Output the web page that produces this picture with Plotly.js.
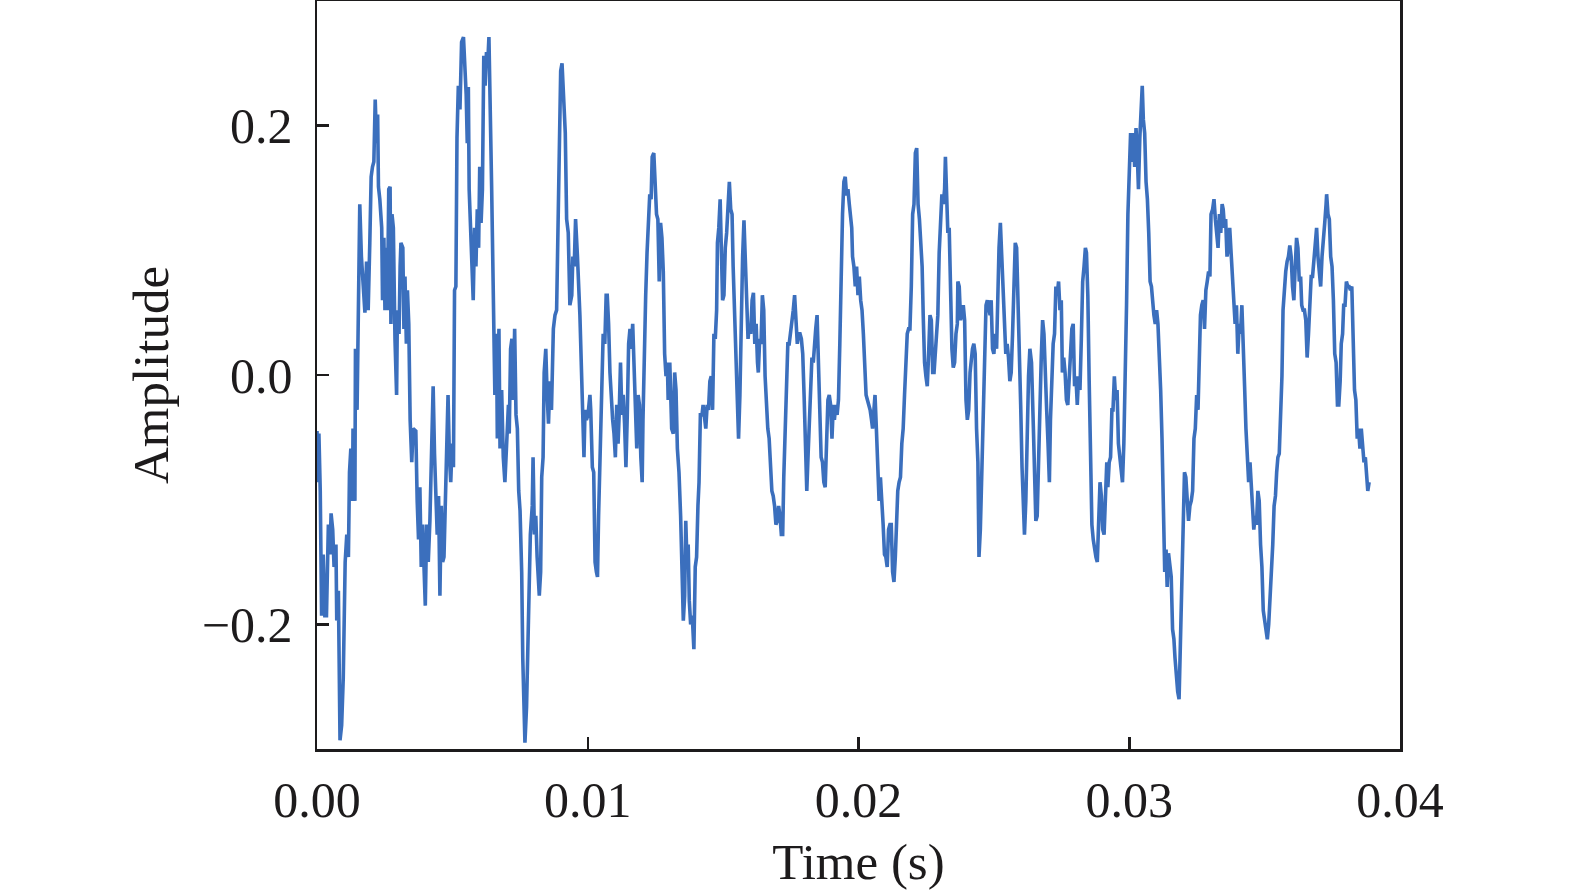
<!DOCTYPE html>
<html>
<head>
<meta charset="utf-8">
<script src="https://cdn.plot.ly/plotly-3.0.1.min.js"></script>
<style>html,body{margin:0;padding:0;background:#fff;}#chart{width:1575px;height:891px;}</style>
</head>
<body>
<div id="chart"></div>
<script>
// Time in milliseconds, converted to seconds for the axis
const timeMs = [
0.00,0.03,0.07,0.12,0.17,0.23,0.29,0.35,0.42,0.48,0.52,0.58,0.63,0.70,0.73,0.79,0.85,0.91,0.97,1.04,
1.10,1.16,1.20,1.25,1.31,1.33,1.40,1.42,1.48,1.53,1.58,1.64,1.71,1.77,1.83,1.89,1.95,2.00,2.05,2.10,
2.15,2.20,2.24,2.27,2.32,2.39,2.42,2.47,2.51,2.55,2.60,2.65,2.70,2.73,2.77,2.82,2.88,2.94,2.97,3.03,
3.07,3.10,3.17,3.21,3.25,3.30,3.34,3.39,3.44,3.50,3.55,3.65,3.70,3.75,3.80,3.85,3.90,3.95,4.00,4.05,
4.11,4.17,4.23,4.29,4.34,4.39,4.44,4.49,4.54,4.59,4.64,4.69,4.73,4.79,4.84,4.89,4.94,4.99,5.04,5.08,
5.13,5.17,5.22,5.28,5.34,5.41,5.47,5.51,5.55,5.59,5.62,5.67,5.72,5.77,5.82,5.87,5.92,5.97,6.01,6.06,
6.11,6.16,6.21,6.26,6.31,6.35,
6.45,6.51,6.53,6.57,6.63,6.66,6.72,6.76,6.82,6.88,6.94,7.00,7.07,7.10,7.15,7.20,7.25,7.30,7.35,7.40,
7.45,7.50,7.56,7.60,7.65,7.68,7.74,7.77,7.83,7.88,7.95,7.98,8.03,8.08,8.13,8.21,8.26,8.30,8.35,8.39,
8.45,8.50,8.55,8.60,8.66,8.73,8.79,8.85,8.90,8.95,9.00,9.05,9.10,9.13,9.17,9.22,9.28,9.34,9.41,9.45,
9.50,9.55,9.62,9.67,9.71,9.78,9.81,9.86,9.90,9.95,10.01,10.08,10.11,10.17,10.22,10.27,10.32,10.36,10.40,10.45,
10.51,10.57,10.63,10.68,10.72,10.77,10.82,10.86,10.92,10.97,11.02,11.07,11.12,11.16,11.21,11.26,11.31,11.36,11.41,11.46,
11.51,11.56,11.61,11.66,11.71,11.76,11.81,11.86,11.91,11.96,12.01,12.04,12.09,12.14,12.19,12.24,12.29,12.34,12.38,12.44,
12.49,12.54,12.59,12.64,12.69,12.74,12.79,12.84,12.89,12.94,12.97,
13.03,13.10,13.16,13.21,13.26,13.31,13.37,13.43,13.48,13.53,13.58,13.62,13.66,13.71,13.75,13.80,13.86,13.92,13.97,14.02,
14.07,14.11,14.16,14.22,14.26,14.31,14.36,14.41,14.46,14.51,14.56,14.61,14.66,14.71,14.76,14.79,14.84,14.89,14.94,14.98,
15.03,15.08,15.13,15.18,15.23,15.28,15.33,15.37,15.42,15.47,15.52,15.57,15.62,15.67,15.72,15.77,15.82,15.87,15.92,15.97,
16.02,16.07,16.12,16.17,16.22,16.27,16.30,16.35,16.40,16.45,16.50,16.55,16.60,16.65,16.70,16.75,16.80,16.85,16.90,16.95,
17.00,17.05,17.10,17.15,17.20,17.24,17.29,17.34,17.39,17.44,17.49,17.54,17.59,17.64,17.69,17.74,17.79,17.84,17.89,17.94,
17.99,18.04,18.09,18.14,18.18,18.23,18.28,18.33,18.38,18.42,18.47,18.52,18.57,18.62,18.67,18.72,18.77,18.82,18.87,18.92,
18.97,19.02,19.07,19.11,19.16,19.21,19.26,19.31,19.36,19.41,19.46,19.51,19.56,19.61,19.66,
19.75,19.78,19.83,19.88,19.93,19.98,20.03,20.08,20.13,20.18,20.23,20.28,20.33,20.38,20.43,20.48,20.52,20.57,20.61,20.66,
20.71,20.76,20.81,20.86,20.91,20.96,21.01,21.06,21.11,21.16,21.21,21.26,21.31,21.36,21.41,21.45,21.50,21.55,21.60,21.65,
21.70,21.75,21.80,21.85,21.90,21.95,22.00,22.05,22.10,22.15,22.20,22.25,22.30,22.35,22.39,22.44,22.49,22.54,22.59,22.64,
22.69,22.74,22.79,22.83,22.88,22.93,22.98,23.03,23.08,23.13,23.18,23.21,23.25,23.30,23.35,23.40,23.45,23.50,23.55,23.60,
23.65,23.67,23.72,23.77,23.82,23.87,23.92,23.97,24.02,24.07,24.12,24.17,24.21,24.26,24.31,24.36,24.41,24.45,24.50,24.55,
24.61,24.66,24.71,24.76,24.81,24.86,24.90,24.95,25.00,25.05,25.10,25.15,25.19,25.24,25.29,25.34,25.39,25.44,25.49,25.54,
25.59,25.64,25.69,25.74,25.79,25.84,25.89,25.94,25.99,26.04,26.09,26.13,26.18,26.23,26.28,
26.33,26.39,26.46,26.51,26.55,26.60,26.65,26.70,26.75,26.80,26.85,26.90,26.95,27.00,27.05,27.09,27.14,27.19,27.24,27.29,
27.34,27.39,27.44,27.49,27.53,27.58,27.63,27.68,27.73,27.78,27.83,27.88,27.93,27.98,28.03,28.08,28.13,28.18,28.23,28.28,
28.33,28.38,28.42,28.47,28.52,28.57,28.62,28.67,28.72,28.77,28.82,28.87,28.92,28.97,29.02,29.07,29.12,29.17,29.21,29.26,
29.31,29.36,29.40,29.45,29.50,29.55,29.60,29.65,29.70,29.75,29.80,29.85,29.90,29.95,30.00,30.05,30.10,30.15,30.20,30.25,
30.30,30.34,30.39,30.44,30.48,30.52,30.57,30.62,30.67,30.72,30.77,30.82,30.86,30.91,30.96,31.01,31.06,31.11,31.16,31.21,
31.26,31.31,31.36,31.40,31.45,31.50,31.55,31.60,31.65,31.69,31.74,31.79,31.84,31.89,31.94,31.99,32.04,32.09,32.14,32.19,
32.24,32.29,32.34,32.39,32.44,32.49,32.54,32.59,32.63,32.68,32.73,32.78,32.83,32.88,32.93,
32.98,33.02,33.08,33.13,33.18,33.23,33.28,33.33,33.38,33.43,33.47,33.52,33.56,33.61,33.66,33.71,33.76,33.81,33.86,33.91,
33.96,34.01,34.06,34.11,34.16,34.21,34.26,34.31,34.36,34.41,34.46,34.51,34.55,34.60,34.65,34.70,34.75,34.80,34.85,34.90,
34.95,35.00,35.05,35.10,35.15,35.20,35.25,35.30,35.35,35.40,35.445,35.49,35.54,35.59,35.64,35.68,35.73,35.78,35.83,35.88,
35.93,35.98,36.03,36.08,36.13,36.18,36.23,36.28,36.33,36.37,36.42,36.47,36.52,36.57,36.62,36.67,36.72,36.77,36.82,36.87,
36.92,36.97,37.02,37.07,37.12,37.17,37.22,37.27,37.29,37.34,37.39,37.44,37.49,37.54,37.59,37.64,37.69,37.74,37.79,37.83,
37.88,37.92,37.97,38.02,38.07,38.12,38.17,38.22,38.27,38.32,38.37,38.42,38.47,38.52,38.57,38.62,38.67,38.72,38.76,38.81,
38.86
];

const amplitude = [
-0.045,-0.086,-0.047,-0.093,-0.193,-0.144,-0.193,-0.193,-0.120,-0.144,-0.111,-0.124,-0.154,-0.136,-0.197,-0.173,-0.293,-0.281,-0.243,-0.150,
-0.128,-0.146,-0.078,-0.059,-0.101,-0.043,-0.101,0.021,-0.028,0.071,0.137,0.095,0.071,0.050,0.091,0.052,0.106,0.159,0.167,0.171,
0.221,0.186,0.209,0.151,0.141,0.118,0.060,0.110,0.052,0.102,0.052,0.149,0.151,0.041,0.129,0.118,0.029,-0.016,0.052,0.033,
0.087,0.106,0.102,0.037,0.079,0.025,0.068,0.041,-0.036,-0.070,-0.043,-0.045,-0.101,-0.132,-0.090,-0.154,-0.120,-0.146,-0.185,-0.120,
-0.150,-0.117,-0.063,-0.009,-0.063,-0.101,-0.128,-0.097,-0.177,-0.105,-0.150,-0.146,-0.105,-0.059,-0.016,-0.066,-0.086,-0.055,-0.074,0.068,
0.071,0.190,0.232,0.213,0.267,0.271,0.240,0.225,0.186,0.231,0.149,0.118,0.071,0.060,0.118,0.087,0.133,0.102,0.167,0.122,
0.149,0.256,0.232,0.259,0.252,0.271,
0.151,0.068,0.025,-0.016,0.033,-0.051,0.037,-0.059,-0.012,-0.066,-0.086,-0.059,-0.024,-0.047,0.021,0.029,-0.020,0.037,-0.032,-0.043,
-0.093,-0.109,-0.158,-0.227,-0.258,-0.295,-0.266,-0.220,-0.177,-0.128,-0.105,-0.066,-0.128,-0.113,-0.146,-0.177,-0.158,-0.082,-0.066,0.002,
0.021,-0.016,-0.039,-0.005,-0.028,0.037,0.048,0.052,0.110,0.167,0.244,0.250,0.232,0.213,0.194,0.125,0.114,0.056,0.064,0.095,
0.087,0.125,0.095,0.071,0.048,-0.005,-0.028,-0.066,-0.028,-0.036,-0.032,-0.016,-0.028,-0.074,-0.078,-0.150,-0.158,-0.162,-0.113,-0.066,
-0.039,0.033,0.025,0.064,0.064,0.041,0.002,-0.016,-0.036,-0.047,-0.066,-0.024,-0.055,-0.032,0.010,-0.032,-0.016,-0.039,-0.074,-0.032,
0.025,0.037,0.021,0.041,0.006,-0.020,-0.059,-0.016,-0.024,-0.066,-0.086,-0.036,0.029,0.064,0.098,0.122,0.145,0.141,0.175,0.178,
0.151,0.129,0.125,0.075,0.122,0.110,0.083,0.017,-0.001,0.010,-0.020,
0.010,-0.043,-0.047,0.002,-0.012,-0.059,-0.078,-0.113,-0.158,-0.197,-0.177,-0.117,-0.146,-0.136,-0.181,-0.200,-0.193,-0.220,-0.154,-0.146,
-0.105,-0.086,-0.032,-0.032,-0.024,-0.036,-0.043,-0.024,-0.028,-0.005,-0.001,-0.028,0.033,0.029,0.052,0.106,0.118,0.141,0.087,0.060,
0.064,0.102,0.114,0.137,0.155,0.133,0.129,0.087,0.056,0.010,-0.020,-0.051,-0.016,0.048,0.095,0.124,0.087,0.064,0.029,0.041,
0.033,0.060,0.066,0.025,0.041,0.010,0.002,0.029,0.025,0.064,0.052,-0.001,-0.028,-0.043,-0.051,-0.082,-0.093,-0.097,-0.105,-0.120,
-0.117,-0.105,-0.113,-0.128,-0.128,-0.082,-0.051,-0.016,0.025,0.025,0.033,0.041,0.052,0.064,0.037,0.025,0.033,0.033,0.029,0.017,
-0.016,-0.051,-0.093,-0.063,-0.039,-0.009,0.014,0.010,0.029,0.037,0.048,0.010,-0.028,-0.066,-0.070,-0.086,-0.090,-0.051,-0.020,-0.016,
-0.024,-0.051,-0.024,-0.036,-0.024,-0.032,-0.020,0.025,0.087,0.129,0.155,0.159,0.144,0.149,0.137,
0.118,0.095,0.087,0.071,0.087,0.064,0.079,0.060,0.052,0.033,0.010,-0.016,-0.020,-0.024,-0.028,-0.036,-0.043,-0.028,-0.016,-0.043,
-0.082,-0.101,-0.082,-0.097,-0.120,-0.144,-0.146,-0.154,-0.124,-0.120,-0.120,-0.158,-0.166,-0.146,-0.117,-0.093,-0.086,-0.082,-0.055,-0.043,
-0.016,0.010,0.033,0.037,0.037,0.071,0.129,0.137,0.178,0.182,0.137,0.125,0.110,0.087,0.048,0.010,-0.001,-0.009,0.017,0.048,
0.044,0.002,0.002,0.017,0.025,0.048,0.098,0.122,0.145,0.137,0.149,0.175,0.137,0.114,0.118,0.071,0.021,0.006,0.010,0.033,
0.041,0.075,0.071,0.044,0.052,0.056,0.044,-0.020,-0.036,-0.028,0.002,0.017,0.021,0.025,0.017,-0.043,-0.070,-0.146,-0.124,-0.082,
-0.036,0.010,0.056,0.060,0.052,0.048,0.060,0.021,0.017,0.033,0.021,0.079,0.102,0.122,0.095,0.071,0.048,0.017,0.025,0.014,
-0.005,0.002,0.033,0.079,0.106,0.102,0.064,0.033,-0.024,-0.074,-0.105,-0.128,-0.101,-0.036,-0.001,
0.021,0.010,-0.043,-0.082,-0.117,-0.113,-0.055,-0.028,0.014,0.044,0.033,-0.005,-0.028,-0.055,-0.086,-0.036,-0.005,0.025,0.033,0.071,
0.064,0.075,0.052,0.060,0.002,0.014,0.002,-0.020,-0.024,-0.001,0.021,0.037,0.041,-0.009,-0.001,-0.024,-0.001,-0.012,0.029,0.075,
0.087,0.102,0.098,0.064,-0.005,-0.074,-0.120,-0.132,-0.140,-0.146,-0.150,-0.117,-0.086,-0.097,-0.124,-0.128,-0.093,-0.070,-0.090,-0.070,
-0.066,-0.028,-0.028,-0.001,-0.020,-0.012,-0.055,-0.066,-0.082,-0.086,-0.055,-0.012,0.056,0.129,0.171,0.194,0.171,0.194,0.167,0.198,
0.175,0.149,0.190,0.217,0.232,0.205,0.194,0.155,0.141,0.114,0.075,0.071,0.056,0.048,0.041,0.052,0.041,0.017,-0.012,-0.051,
-0.097,-0.158,-0.140,-0.170,-0.143,-0.154,-0.162,-0.204,-0.212,-0.227,-0.243,-0.254,-0.260,-0.212,-0.166,-0.120,-0.078,-0.082,-0.101,-0.117,
-0.105,-0.101,-0.093,-0.051,-0.043,-0.016,-0.028,0.006,0.048,0.056,0.060,0.037,0.068,0.075,0.083,
0.079,0.129,0.133,0.141,0.125,0.110,0.102,0.129,0.114,0.137,0.133,0.118,0.125,0.095,0.102,0.118,0.095,0.079,0.056,0.041,
0.056,0.017,0.041,0.033,0.056,0.010,-0.009,-0.043,-0.066,-0.086,-0.070,-0.090,-0.105,-0.124,-0.113,-0.120,-0.093,-0.101,-0.136,-0.154,
-0.189,-0.197,-0.204,-0.212,-0.200,-0.181,-0.158,-0.136,-0.105,-0.097,-0.078,-0.066,-0.063,-0.036,-0.001,0.052,0.071,0.083,0.091,0.095,
0.104,0.095,0.071,0.060,0.087,0.110,0.102,0.075,0.079,0.056,0.052,0.052,0.044,0.014,0.033,0.060,0.079,0.079,0.095,0.102,
0.118,0.095,0.083,0.071,0.095,0.114,0.122,0.137,0.145,0.129,0.125,0.095,0.087,0.060,0.017,0.010,-0.024,-0.024,-0.005,0.025,
0.033,0.056,0.056,0.075,0.071,0.071,0.068,0.071,0.037,-0.012,-0.020,-0.051,-0.043,-0.059,-0.043,-0.063,-0.070,-0.066,-0.078,-0.093,
-0.086
];

const xTickVals = [0, 0.01, 0.02, 0.03, 0.04];
const xTickText = ['0.00', '0.01', '0.02', '0.03', '0.04'];
const yTickVals = [-0.2, 0.0, 0.2];
const yTickText = ['\u22120.2', '0.0', '0.2'];

const timeSec = timeMs.map(function (t) { return t / 1000; });

const serif = 'Liberation Serif, Times New Roman, serif';
const ink = '#1d1b1c';

const trace = {
  x: timeSec,
  y: amplitude,
  type: 'scatter',
  mode: 'lines',
  line: { color: '#3b6fbd', width: 3.6 },
  hoverinfo: 'skip'
};

const layout = {
  width: 1575,
  height: 891,
  margin: { l: 317, r: 175, t: 1, b: 142, pad: 0 },
  paper_bgcolor: '#ffffff',
  plot_bgcolor: '#ffffff',
  showlegend: false,
  font: { family: serif, color: ink },
  xaxis: {
    range: [0, 0.04],
    tickvals: xTickVals,
    ticktext: xTickText,
    ticks: 'inside',
    ticklen: 12,
    tickwidth: 2.5,
    tickcolor: ink,
    showline: true,
    mirror: true,
    linewidth: 2.5,
    linecolor: ink,
    showgrid: false,
    zeroline: false,
    tickfont: { family: serif, size: 50, color: ink },
    ticklabelstandoff: 5,
    title: { text: 'Time (s)', font: { family: serif, size: 51, color: ink }, standoff: 17 }
  },
  yaxis: {
    range: [-0.3, 0.3],
    tickvals: yTickVals,
    ticktext: yTickText,
    ticks: 'inside',
    ticklen: 12,
    tickwidth: 2.5,
    tickcolor: ink,
    showline: true,
    mirror: true,
    linewidth: 2.5,
    linecolor: ink,
    showgrid: false,
    zeroline: false,
    tickfont: { family: serif, size: 50, color: ink },
    ticklabelstandoff: 12,
    title: { text: 'Amplitude', font: { family: serif, size: 51, color: ink }, standoff: 17 }
  }
};

Plotly.newPlot('chart', [trace], layout, { displayModeBar: false, staticPlot: true });
</script>
</body>
</html>
